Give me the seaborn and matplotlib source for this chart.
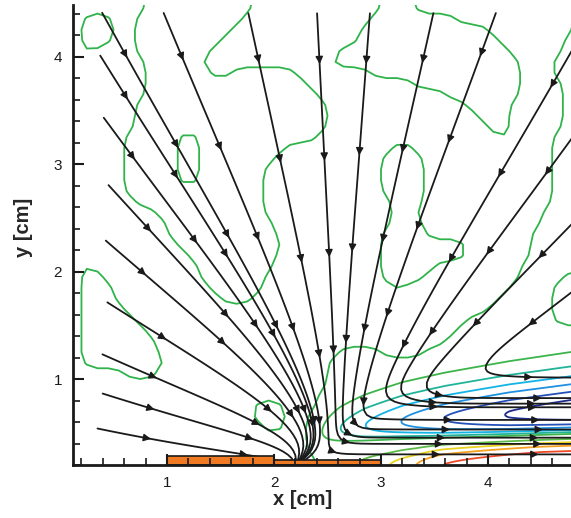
import numpy as np
import matplotlib
matplotlib.use("Agg")
import matplotlib.pyplot as plt
import seaborn as sns
from matplotlib.patches import Rectangle
from matplotlib.ticker import MultipleLocator

sns.set_theme(style="white")
plt.rcParams['font.family'] = ['Liberation Sans', 'DejaVu Sans']

# flow model: two sinks at the wall (left one anisotropic) + wall jet layer to the right
sink_x = [2.20, 3.00]
sink_y = [0.15, 0.15]
sink_q = [1.0, 1.0]
sink_ratio = [0.45, 1.0]   # vertical / horizontal pull
sink_drift = 0.08          # slow downward drift of the far field
wall_y = 0.2
layer_x = [2.40, 2.60, 3.00, 3.20, 3.67, 4.05, 4.50, 5.00]
layer_top = [0.30, 0.45, 0.88, 0.93, 0.99, 1.15, 1.25, 1.35]
layer_speed = 0.6
jet_x = [2.30, 2.45, 2.62, 2.85, 3.20, 3.60, 4.20, 5.00]
jet_shear = [0.0, 1.8, 3.6, 5.4, 7.3, 9.1, 11.0, 12.5]
jet_delta = [0.15, 0.17, 0.185, 0.20, 0.22, 0.235, 0.255, 0.28]
wall_x = [2.60, 3.08, 3.33, 3.58, 4.50, 5.00]
wall_shear = [0.5, 2.4, 3.95, 6.5, 11.6, 12.5]
jet_p = 1.5

# streamline seeds (upstream ends)
seed_left_x = [0.35, 0.38, 0.42, 0.39, 0.40, 0.35, 0.35, 0.30]
seed_left_y = [4.05, 3.47, 2.84, 2.32, 1.74, 1.25, 0.88, 0.55]
seed_top_x = [0.37, 0.95, 1.75, 2.40, 2.90, 3.50, 4.09]
seed_right_y = [4.17, 3.33, 2.51, 1.86]

# jet vorticity contour levels
neg_levels = [-6, -5, -4, -3, -2, -1]
neg_colors = ['#1c2a8c', '#2450b8', '#1f8fe0', '#12b3e6', '#20b39a', '#3cb44b']
pos_levels = [2.2, 4.7, 7.7, 12.7]
pos_colors = ['#5dba47', '#e8d41e', '#f5a020', '#ee4a2a']

# cells (0.1 cm) where the background vorticity is above zero, top row first,
# columns 0..47 span x = 0.15 .. 4.85, rows span y = 4.45 .. 0.25
zone_runs = [
    "7-16,29-31,47", "1-3,6-15,28-35,47", "1-3,6-14,27-38,47", "1-3,6-13,27-39,46-47",
    "1,6-12,25-40,46-47", "7-11,24-41,45-47", "7-12,15-20,28-41,45-47", "7-21,32-41,46-47",
    "7-22,35-41,46-47", "6-23,37-40,46-47", "6-23,38-40,46-47", "6-23,39-40,46-47",
    "5-9,12-22,40,45-47", "5-9,12-19,30-31,45-47", "5-9,12-18,29-32,45-47", "5-9,12-17,29-32,45-47",
    "5-9,12-17,29-32,45-47", "5-17,29-32,45-47", "6-17,30-32,45-47", "8-17,30-31,44-47",
    "9-18,30-32,44-47", "9-18,29-32,43-47", "10-19,29-36,43-47", "11-18,29-36,43-47",
    "1,12-18,29-33,42-47", "1-2,12-17,29-32,42-45", "1-3,13-17,30,41-44", "1-3,14-16,40-44",
    "1-4,39-44", "1-5,37-44", "1-6,36-47", "1-7,35-47",
    "1-7,25-28,33-47", "1-8,24-47", "5-7,24-47", "24-47",
    "23-47", "17-19,23-47", "17-19,22-47", "18-19,22-47",
    "22-47", "22-47", "23-47",
]

gx = 0.15 + 0.1 * np.arange(48)
gy = 4.45 - 0.1 * np.arange(len(zone_runs))
field = np.zeros((len(zone_runs), 48))
for r, runs in enumerate(zone_runs):
    for run in runs.split(","):
        a, _, b = run.partition("-")
        field[r, int(a):int(b or a) + 1] = 1
field, gy = field[::-1], gy[::-1]

# pad: zero on the left, edge copy elsewhere, then light smoothing
fp = np.pad(field, ((1, 1), (1, 1)), mode='edge')
fp[:, 0] = 0
k = np.array([0.25, 0.5, 0.25])
fs = np.apply_along_axis(lambda r: np.convolve(r, k, mode='same'), 1, np.pad(fp, ((0, 0), (1, 1)), mode='edge'))[:, 1:-1]
fs = np.apply_along_axis(lambda c: np.convolve(c, k, mode='same'), 0, np.pad(fs, ((1, 1), (0, 0)), mode='edge'))[1:-1, :]
pgx = np.concatenate([[gx[0] - 0.1], gx, [gx[-1] + 0.1]])
pgy = np.concatenate([[gy[0] - 0.1], gy, [gy[-1] + 0.1]])


def jet_profile(X, Y):
    delta = np.interp(X, jet_x, jet_delta)
    eta = np.clip((Y - wall_y) / delta, 0, None)
    return delta, eta, eta ** jet_p


def velocity(X, Y):
    us = np.zeros_like(X)
    vs = np.full_like(X, -sink_drift)
    for xs, ys, q, ratio in zip(sink_x, sink_y, sink_q, sink_ratio):
        r2 = (X - xs) ** 2 + (Y - ys) ** 2
        us -= q * (X - xs) / r2
        vs -= ratio * q * (Y - ys) / r2
    delta, eta, s = jet_profile(X, Y)
    shear = np.interp(X, jet_x, jet_shear)
    uj = shear * delta * eta * np.exp((1 - s) / jet_p)
    onset = np.clip((X - 2.40) / 0.15, 0, 1)
    top = np.interp(X, layer_x, layer_top)
    J = onset / (1 + np.exp(np.clip((Y - top) / 0.07, -50, 50)))
    return (1 - J) * us + J * (uj + layer_speed), (1 - J) * vs


xg = np.linspace(0.3, 4.9, 116)
yg = np.linspace(0.2, 4.46, 107)
X, Y = np.meshgrid(xg, yg)
U, V = velocity(X, Y)

seeds = ([(x, y) for x, y in zip(seed_left_x, seed_left_y)]
         + [(x, 4.45) for x in seed_top_x]
         + [(4.85, y) for y in seed_right_y])

fig = plt.figure(figsize=(5.71, 5.18), dpi=100)
ax = fig.add_axes([73 / 571, 53 / 518, 498 / 571, 460 / 518])

# jet vorticity contours (upper side uses jet_shear, wall side uses wall_shear)
jx = np.linspace(2.2, 4.9, 240)
jy = np.linspace(0.2, 1.8, 200)
JX, JY = np.meshgrid(jx, jy)
_, je, js = jet_profile(JX, JY)
amp = np.where(js > 1, np.interp(JX, jet_x, jet_shear), np.interp(JX, wall_x, wall_shear))
omega = amp * (1 - js) * np.exp((1 - js) / jet_p)
ax.contour(JX, JY, omega, levels=neg_levels, colors=neg_colors, linewidths=1.3, zorder=1.2)
ax.contour(JX, JY, omega, levels=pos_levels, colors=pos_colors, linewidths=1.3, zorder=1.2)

# background zero-level outlines
ax.contour(pgx, pgy, fs, levels=[0.5], colors='#2fb34a', linewidths=1.3, zorder=1.1)

# streamlines: integrate with streamplot, redraw path with several arrowheads
tmp_fig, tmp_ax = plt.subplots()
arrow_step = 0.85
for sx, sy in seeds:
    probe = tmp_ax.streamplot(xg, yg, U, V, start_points=[[sx, sy]],
                              integration_direction='forward',
                              broken_streamlines=False, density=3)
    segs = probe.lines.get_segments()
    if not segs:
        continue
    path = np.vstack([segs[0][:1]] + [s[1:] for s in segs])
    ax.plot(path[:, 0], path[:, 1], color='#1a1a1a', lw=1.3, zorder=1.5)
    d = np.concatenate([[0], np.cumsum(np.hypot(*np.diff(path, axis=0).T))])
    n_arr = max(1, int(d[-1] / arrow_step))
    for t in (np.arange(n_arr) + 0.5) * d[-1] / n_arr:
        i = max(min(np.searchsorted(d, t), len(path) - 1), 1)
        ax.annotate('', xy=path[i], xytext=path[i - 1],
                    arrowprops=dict(arrowstyle='-|>', color='#1a1a1a', lw=1.0,
                                    mutation_scale=11, shrinkA=0, shrinkB=0),
                    zorder=1.6)
plt.close(tmp_fig)

# plate segments on the wall
ax.add_patch(Rectangle((1.0, 0.2), 1.0, 0.08, fc='#f07a22', ec='#1a1a1a', lw=1.2, zorder=2))
ax.add_patch(Rectangle((2.0, 0.2), 1.0, 0.05, fc='#f07a22', ec='#1a1a1a', lw=1.2, zorder=2))

ax.set_xlim(0.121, 4.776)
ax.set_ylim(0.2, 4.48)
ax.set_axisbelow(False)
for side in ['top', 'right']:
    ax.spines[side].set_visible(False)
for side in ['left', 'bottom']:
    ax.spines[side].set_color('#1a1a1a')
    ax.spines[side].set_linewidth(2)
ax.xaxis.set_major_locator(MultipleLocator(1))
ax.yaxis.set_major_locator(MultipleLocator(1))
ax.xaxis.set_minor_locator(MultipleLocator(0.2))
ax.yaxis.set_minor_locator(MultipleLocator(0.2))
ax.tick_params(which='both', direction='in', bottom=True, left=True, colors='#1a1a1a')
ax.tick_params(which='major', length=8, width=1.5, labelsize=11, pad=8)
ax.tick_params(which='minor', length=5, width=1.2)
ax.set_xlabel('x [cm]', fontsize=14.5, fontweight='bold')
ax.set_ylabel('y [cm]', fontsize=14.5, fontweight='bold')
ax.xaxis.set_label_coords(0.462, -0.055)
ax.yaxis.set_label_coords(-0.080, 0.517)

fig.savefig('out.png', dpi=100)
